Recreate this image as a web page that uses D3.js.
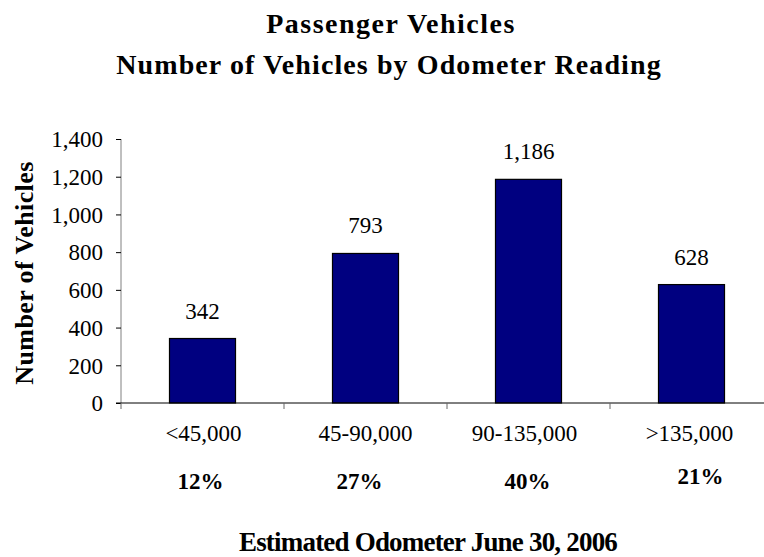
<!DOCTYPE html>
<html><head><meta charset="utf-8">
<script src="https://cdn.jsdelivr.net/npm/d3@7"></script>
<style>body{margin:0;background:#fff;}</style>
</head><body>
<svg id="chart" width="764" height="557"></svg>
<script>
const categories = ["<45,000", "45-90,000", "90-135,000", ">135,000"];
const vehicleCounts = [342, 793, 1186, 628];
const percentLabels = ["12%", "27%", "40%", "21%"];
const yTicks = [0, 200, 400, 600, 800, 1000, 1200, 1400];

const SERIF = '"Liberation Serif"';
const svg = d3.select("#chart");
const margin = {left: 121, top: 139};
const plotW = 652, plotH = 264;
const g = svg.append("g").attr("transform", `translate(${margin.left},${margin.top})`);

const x = d3.scaleBand().domain(categories).range([0, plotW]).paddingInner(0.595).paddingOuter(0.2975);
const y = d3.scaleLinear().domain([0, 1400]).range([plotH, 0]);

// bars
g.selectAll("rect.bar").data(vehicleCounts).join("rect")
  .attr("class", "bar")
  .attr("x", (d, i) => x(categories[i]))
  .attr("y", d => y(d))
  .attr("width", x.bandwidth())
  .attr("height", d => plotH - y(d))
  .attr("fill", "#000080").attr("stroke", "#000").attr("stroke-width", 1.2);

// y axis
const yAxis = g.append("g").call(d3.axisLeft(y).tickValues(yTicks).tickSize(5).tickPadding(13).tickFormat(d3.format(",")));
yAxis.select(".domain").attr("stroke", "#808080").attr("d", `M0,${plotH}V0`);
yAxis.selectAll(".tick line").attr("stroke", "#000");
yAxis.selectAll(".tick text").style("font-family", SERIF).attr("font-size", 23).attr("fill", "#000").attr("dy", "0.34em");

// x axis
const xAxis = g.append("g").attr("transform", `translate(0,${plotH})`)
  .call(d3.axisBottom(x).tickSize(0).tickFormat(""));
xAxis.select(".domain").attr("stroke", "#000").attr("d", `M-5,0H${plotW}`);
const sepScale = d3.scaleLinear().domain([0, categories.length]).range([0, plotW]);
g.selectAll("line.sep").data(d3.range(0, categories.length)).join("line")
  .attr("x1", d => sepScale(d)).attr("x2", d => sepScale(d))
  .attr("y1", plotH).attr("y2", plotH + 6).attr("stroke", "#666");

// category labels
const catDx = [1, 0, -4, -2];
g.selectAll("text.cat").data(categories).join("text")
  .attr("class", "cat")
  .attr("x", (d, i) => x(d) + x.bandwidth() / 2 + catDx[i]).attr("y", plotH + 38)
  .attr("text-anchor", "middle").attr("font-size", 23).style("font-family", SERIF).text(d => d);

// value labels
g.selectAll("text.val").data(vehicleCounts).join("text")
  .attr("class", "val")
  .attr("x", (d, i) => x(categories[i]) + x.bandwidth() / 2)
  .attr("y", d => y(d) - 20)
  .attr("text-anchor", "middle").attr("font-size", 23).style("font-family", SERIF).text(d => d3.format(",")(d));

// percent labels
const pctDx = [-2, -6, -1, 9];
const pctDy = [0, 0, 0, -5];
g.selectAll("text.pct").data(percentLabels).join("text")
  .attr("class", "pct")
  .attr("x", (d, i) => x(categories[i]) + x.bandwidth() / 2 + pctDx[i])
  .attr("y", (d, i) => plotH + 86 + pctDy[i])
  .attr("text-anchor", "middle").attr("font-size", 23).attr("font-weight", "bold").style("font-family", SERIF).text(d => d);

// titles
svg.append("text").attr("x", 391).attr("y", 33).attr("text-anchor", "middle").style("font-family", SERIF)
  .attr("font-size", 28).attr("font-weight", "bold").attr("letter-spacing", 1.5).text("Passenger Vehicles");
svg.append("text").attr("x", 389).attr("y", 74).attr("text-anchor", "middle").style("font-family", SERIF)
  .attr("font-size", 28).attr("font-weight", "bold").attr("letter-spacing", 1.1).text("Number of Vehicles by Odometer Reading");

svg.append("text").attr("transform", `translate(33,${margin.top + plotH / 2 + 2}) rotate(-90)`).style("font-family", SERIF)
  .attr("text-anchor", "middle").attr("font-size", 26).attr("font-weight", "bold").attr("letter-spacing", 0.4).text("Number of Vehicles");

svg.append("text").attr("x", 428).attr("y", 551).attr("text-anchor", "middle").style("font-family", SERIF)
  .attr("font-size", 27).attr("font-weight", "bold").attr("letter-spacing", -0.8).text("Estimated Odometer June 30, 2006");
</script>
</body></html>
